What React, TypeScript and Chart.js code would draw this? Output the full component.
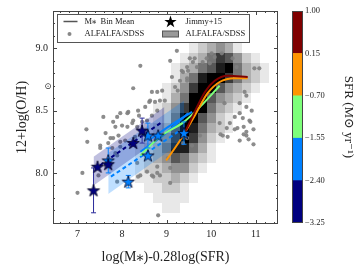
import React, { useEffect, useRef } from 'react';
import { Chart, registerables } from 'chart.js';
Chart.register(...registerables);

const FONT = '"Liberation Serif", "DejaVu Serif", serif';

const X_TICKS = [7, 8, 9, 10, 11];
const Y_TICKS = [8.0, 8.5, 9.0];
const CB_TICKS = [-3.25, -2.4, -1.55, -0.7, 0.15, 1.0];
const CB_COLORS = ['#00007f', '#0080ff', '#7dff7a', '#ff9400', '#7f0000'];

const GAL_X = [8.41,8.25,8.67,8.61,8.74,8.85,8.96,8.79, 7.89,8.12,8.25,8.38,8.56,8.67,8.79,7.20, 9.23,9.52,9.59,9.68,9.46,9.37,9.30,9.46, 9.19,9.25,10.01,10.08,10.24,9.90,10.48,10.57, 10.97,10.64,10.79,10.91,10.64,10.53,10.71,10.86, 10.42,10.35,10.59,10.79,9.08,9.12,8.90,9.46, 9.37,9.57,9.75,10.26,10.79,9.03,9.08,9.08, 8.70,8.85,8.81,7.00,7.11,7.22,7.51,7.78, 7.85,7.96,8.07,7.74,8.56,8.67,8.79,8.41, 7.89,7.58,7.96,7.80,8.14,8.00,8.23,8.34, 8.45,8.63,7.63,7.92,7.51,7.96,7.89,7.47, 8.36,8.34,8.79,8.36,8.52,7.85,8.12,7.80, 7.69,8.29,10.75,10.79,10.30,9.63,9.81,9.34, 9.48,9.46,10.21,10.53,10.73,10.88,10.73,10.95, 11.08,10.64,10.84,10.37,10.19,10.95,9.97];
const GAL_Y = [8.86,8.68,8.65,8.57,8.57,8.58,8.58,8.65, 8.45,8.48,8.42,8.46,8.42,8.46,8.50,8.35, 8.98,8.92,8.89,8.85,8.85,8.81,8.74,8.74, 8.69,8.66,8.96,8.93,8.96,8.92,8.92,8.85, 8.84,8.56,8.53,8.50,8.48,8.45,8.44,8.42, 8.40,8.36,8.36,8.33,8.90,8.77,8.66,8.28, 8.24,8.22,8.30,8.30,8.30,8.12,8.04,7.92, 7.97,7.98,7.66,7.84,8.00,8.25,8.20,8.20, 8.16,8.25,8.26,8.28,8.01,7.98,8.00,7.98, 7.93,8.45,8.48,8.41,8.49,8.38,8.40,8.37, 8.41,8.58,8.32,8.30,8.22,8.21,8.14,7.98, 7.97,8.08,8.05,8.50,8.53,8.37,8.37,8.28, 8.24,8.29,8.65,8.62,8.56,8.92,8.89,8.82, 8.82,8.76,8.31,8.35,8.37,8.41,8.31,8.35, 8.84,8.26,8.27,8.29,8.40,8.23,8.88];

// 2D histogram of ALFALFA/SDSS (density level 0-9), columns from HIST_X0 step HIST_DX, rows from HIST_Y0 downward
const HIST_X0 = 8.3;
const HIST_DX = 0.2;
const HIST_Y0 = 9.04;
const HIST_DY = 0.08;
const HIST_ROWS = [
  '000000123431000',
  '000001235764210',
  '000012356895321',
  '000013589975321',
  '000124799643210',
  '000135996432100',
  '001247995321000',
  '001259964210000',
  '012369853210000',
  '012479742100000',
  '123588531000000',
  '123465321000000',
  '122344210000000',
  '112232100000000',
  '011221000000000',
  '001111000000000',
  '000110000000000',
];

const NAVY_STAR_X = [7.36, 7.45, 7.69, 8.25, 8.45];
const NAVY_STAR_Y = [7.86, 8.05, 8.07, 8.24, 8.34];
const NAVY_STAR_ERR = [0.18, 0, 0, 0, 0.1];
const BLUE_STAR_X = [7.69, 8.14, 8.58, 8.81, 8.58, 9.39];
const BLUE_STAR_Y = [8.10, 7.93, 8.30, 8.30, 8.14, 8.32];
const BLUE_STAR_ERR = [0.1, 0.05, 0.1, 0, 0, 0.09];

const NAVY_BAND_X = [7.36, 8.95];
const NAVY_BAND_HI = [8.13, 8.53];
const NAVY_BAND_LO = [7.90, 8.30];
const BLUE_BAND_X = [7.69, 9.39];
const BLUE_BAND_HI = [8.16, 8.58];
const BLUE_BAND_LO = [7.83, 8.26];

const NAVY_FIT_X = [7.5, 8.9];
const NAVY_FIT_Y = [8.06, 8.41];
const BLUE_FIT_X = [7.75, 9.3];
const BLUE_FIT_Y = [7.97, 8.34];

const RED_X = [9.43, 9.63, 9.86, 10.08, 10.37, 10.82];
const RED_Y = [8.34, 8.49, 8.65, 8.74, 8.78, 8.77];
const ORANGE_X = [8.99, 9.30, 9.63, 9.92, 10.19, 10.53, 10.82];
const ORANGE_Y = [8.10, 8.26, 8.46, 8.64, 8.73, 8.76, 8.76];
const GREEN_X = [8.41, 8.85, 9.39, 9.75, 10.19];
const GREEN_Y = [8.14, 8.29, 8.41, 8.53, 8.70];
const BLUE_A_X = [8.41, 8.92, 9.48];
const BLUE_A_Y = [8.17, 8.30, 8.48];
const BLUE_B_X = [8.59, 9.08, 9.57];
const BLUE_B_Y = [8.26, 8.38, 8.49];

const zip = (xs: number[], ys: number[]) => xs.map((x, i) => ({ x, y: ys[i] }));

function starPath(ctx: CanvasRenderingContext2D, cx: number, cy: number, R: number) {
  const r = R * 0.382;
  ctx.beginPath();
  for (let i = 0; i < 10; i++) {
    const rad = i % 2 === 0 ? R : r;
    const a = -Math.PI / 2 + (i * Math.PI) / 5;
    const px = cx + rad * Math.cos(a);
    const py = cy + rad * Math.sin(a);
    if (i === 0) ctx.moveTo(px, py);
    else ctx.lineTo(px, py);
  }
  ctx.closePath();
}

function makeStar(color: string, R: number) {
  const s = Math.ceil(R * 2 + 3);
  const c = document.createElement('canvas');
  c.width = s;
  c.height = s;
  const ctx = c.getContext('2d')!;
  starPath(ctx, s / 2, s / 2 + 0.5, R);
  ctx.fillStyle = color;
  ctx.fill();
  ctx.lineWidth = 0.8;
  ctx.strokeStyle = '#000020';
  ctx.stroke();
  return c;
}

const histPlugin = {
  id: 'hist',
  beforeDatasetsDraw(chart: any) {
    const { ctx, scales: { x, y } } = chart;
    ctx.save();
    HIST_ROWS.forEach((row, r) => {
      for (let c = 0; c < row.length; c++) {
        const k = +row[c];
        if (!k) continue;
        const x0 = Math.round(x.getPixelForValue(HIST_X0 + c * HIST_DX));
        const x1 = Math.round(x.getPixelForValue(HIST_X0 + (c + 1) * HIST_DX));
        const y0 = Math.round(y.getPixelForValue(HIST_Y0 - r * HIST_DY));
        const y1 = Math.round(y.getPixelForValue(HIST_Y0 - (r + 1) * HIST_DY));
        const g = Math.round(232 - (k - 1) * 29);
        ctx.fillStyle = `rgb(${g},${g},${g})`;
        ctx.fillRect(x0, y0, x1 - x0, y1 - y0);
      }
    });
    ctx.restore();
  },
};

const frameLegendPlugin = {
  id: 'frameLegend',
  afterDraw(chart: any) {
    const { ctx, chartArea: a, scales: { x, y } } = chart;
    ctx.save();
    ctx.strokeStyle = '#444';
    ctx.lineWidth = 1;
    ctx.strokeRect(a.left + 0.5, a.top + 0.5, a.right - a.left - 1, a.bottom - a.top - 1);
    ctx.beginPath();
    for (let i = Math.ceil(x.min / 0.2); i * 0.2 <= x.max; i++) {
      const v = i * 0.2;
      const major = i % 5 === 0;
      const L = major ? 4 : 2;
      const px = Math.round(x.getPixelForValue(v)) + 0.5;
      ctx.moveTo(px, a.bottom);
      ctx.lineTo(px, a.bottom - L);
      ctx.moveTo(px, a.top);
      ctx.lineTo(px, a.top + L);
    }
    for (let i = Math.ceil(y.min / 0.1 - 1e-6); i * 0.1 <= y.max + 1e-6; i++) {
      const v = i * 0.1;
      const major = i % 5 === 0;
      const L = major ? 4 : 2;
      const py = Math.round(y.getPixelForValue(v)) + 0.5;
      ctx.moveTo(a.left, py);
      ctx.lineTo(a.left + L, py);
      ctx.moveTo(a.right, py);
      ctx.lineTo(a.right - L, py);
    }
    ctx.stroke();

    ctx.fillStyle = '#333';
    ctx.font = `9px ${FONT}`;
    ctx.textAlign = 'center';
    ctx.textBaseline = 'middle';
    ctx.fillText('⊙', a.left - 5, y.getPixelForValue(8.69));

    const bx = a.left + 4.5;
    const by = a.top + 3.5;
    const bw = 192;
    const bh = 28;
    ctx.fillStyle = '#ffffff';
    ctx.fillRect(bx, by, bw, bh);
    ctx.strokeStyle = '#555';
    ctx.strokeRect(bx, by, bw, bh);
    const r1 = by + 7;
    const r2 = by + 19.5;
    ctx.strokeStyle = '#555';
    ctx.lineWidth = 1.5;
    ctx.beginPath();
    ctx.moveTo(bx + 6, r1);
    ctx.lineTo(bx + 20, r1);
    ctx.stroke();
    ctx.fillStyle = '#888';
    ctx.beginPath();
    ctx.arc(bx + 12, r2, 2, 0, Math.PI * 2);
    ctx.fill();
    starPath(ctx, bx + 113, r1 + 0.5, 6.5);
    ctx.fillStyle = '#000';
    ctx.fill();
    ctx.fillStyle = '#999';
    ctx.fillRect(bx + 105, r2 - 3, 16, 6);
    ctx.lineWidth = 1;
    ctx.strokeStyle = '#555';
    ctx.strokeRect(bx + 105, r2 - 3, 16, 6);
    ctx.fillStyle = '#222';
    ctx.font = `8.5px ${FONT}`;
    ctx.textAlign = 'left';
    ctx.textBaseline = 'middle';
    ctx.fillText('M⁎  Bin Mean', bx + 27, r1);
    ctx.fillText('ALFALFA/SDSS', bx + 27, r2);
    ctx.fillText('Jimmy+15', bx + 128, r1);
    ctx.fillText('ALFALFA/SDSS', bx + 128, r2);
    ctx.restore();
  },
};

const cbFramePlugin = {
  id: 'cbFrame',
  afterDraw(chart: any) {
    const { ctx, chartArea: a } = chart;
    ctx.save();
    ctx.strokeStyle = '#444';
    ctx.lineWidth = 1;
    ctx.strokeRect(a.left + 0.5, a.top + 0.5, a.right - a.left - 1, a.bottom - a.top - 1);
    ctx.restore();
  },
};

export default function App() {
  const mainRef = useRef<HTMLCanvasElement>(null);
  const cbRef = useRef<HTMLCanvasElement>(null);

  useEffect(() => {
    const navyStar = makeStar('#00007f', 6.5);
    const blueStar = makeStar('#0080ff', 6.5);

    const errSets: any[] = [];
    const addErr = (xs: number[], ys: number[], es: number[], color: string) => {
      xs.forEach((x, i) => {
        if (!es[i]) return;
        errSets.push({
          data: [{ x, y: ys[i] - es[i] }, { x, y: ys[i] + es[i] }],
          borderColor: color,
          borderWidth: 1,
          showLine: true,
          pointStyle: 'line',
          pointRadius: 2.5,
          pointBorderColor: color,
          pointBorderWidth: 1,
          fill: false,
        });
      });
    };
    addErr(NAVY_STAR_X, NAVY_STAR_Y, NAVY_STAR_ERR, '#2a2a9a');
    addErr(BLUE_STAR_X, BLUE_STAR_Y, BLUE_STAR_ERR, '#0080ff');

    const curve = (xs: number[], ys: number[], color: string, dash: number[] = []) => ({
      data: zip(xs, ys),
      borderColor: color,
      borderWidth: 2,
      borderDash: dash,
      pointRadius: 0,
      showLine: true,
      tension: dash.length ? 0 : 0.4,
      cubicInterpolationMode: 'monotone',
      fill: false,
    });

    const band = (xs: number[], ys: number[], fill: any, bg: string) => ({
      data: zip(xs, ys),
      borderColor: 'transparent',
      borderWidth: 0,
      pointRadius: 0,
      showLine: true,
      fill,
      backgroundColor: bg,
      tension: 0,
    });

    const datasets: any[] = [
      { data: zip(NAVY_STAR_X, NAVY_STAR_Y), showLine: false, pointStyle: navyStar, pointRadius: 6, fill: false },
      { data: zip(BLUE_STAR_X, BLUE_STAR_Y), showLine: false, pointStyle: blueStar, pointRadius: 6, fill: false },
      ...errSets,
      curve(RED_X, RED_Y, '#7f0000'),
      curve(ORANGE_X, ORANGE_Y, '#ff9400'),
      curve(GREEN_X, GREEN_Y, '#7dff7a'),
      curve(BLUE_A_X, BLUE_A_Y, '#0080ff'),
      curve(BLUE_B_X, BLUE_B_Y, '#0080ff'),
      curve(NAVY_FIT_X, NAVY_FIT_Y, '#00007f', [4, 3]),
      curve(BLUE_FIT_X, BLUE_FIT_Y, '#0080ff', [4, 3]),
      band(NAVY_BAND_X, NAVY_BAND_HI, '+1', 'rgba(0,0,127,0.25)'),
      band(NAVY_BAND_X, NAVY_BAND_LO, false, 'transparent'),
      band(BLUE_BAND_X, BLUE_BAND_HI, '+1', 'rgba(0,128,255,0.25)'),
      band(BLUE_BAND_X, BLUE_BAND_LO, false, 'transparent'),
      {
        data: zip(GAL_X, GAL_Y),
        showLine: false,
        pointStyle: 'circle',
        pointRadius: 2.1,
        pointBackgroundColor: 'rgba(128,128,128,0.9)',
        pointBorderWidth: 0,
        fill: false,
      },
    ];

    const main = new Chart(mainRef.current!, {
      type: 'line',
      data: { datasets },
      options: {
        animation: false,
        responsive: false,
        events: [],
        layout: { padding: { left: 0, right: 82, top: 10, bottom: 0 } },
        plugins: { legend: { display: false }, tooltip: { enabled: false } },
        scales: {
          x: {
            type: 'linear',
            min: 6.45,
            max: 11.5,
            afterBuildTicks: (s: any) => {
              s.ticks = X_TICKS.map((v) => ({ value: v }));
            },
            afterFit: (s: any) => {
              s.height = 46;
            },
            grid: { display: false, drawTicks: false },
            border: { display: false },
            ticks: {
              padding: 4,
              color: '#222',
              font: { family: FONT, size: 10 },
              callback: (v: any) => String(v),
            },
            title: {
              display: true,
              text: 'log(M⁎)-0.28log(SFR)',
              color: '#222',
              font: { family: FONT, size: 14 },
              padding: { top: 0, bottom: 4 },
            },
          },
          y: {
            type: 'linear',
            min: 7.59,
            max: 9.3,
            afterBuildTicks: (s: any) => {
              s.ticks = Y_TICKS.map((v) => ({ value: v }));
            },
            afterFit: (s: any) => {
              s.width = 53;
            },
            grid: { display: false, drawTicks: false },
            border: { display: false },
            ticks: {
              padding: 5,
              color: '#222',
              font: { family: FONT, size: 10 },
              callback: (v: any) => Number(v).toFixed(1),
            },
            title: {
              display: true,
              text: '12+log(O/H)',
              color: '#222',
              font: { family: FONT, size: 14 },
              padding: { top: 14, bottom: 0 },
            },
          },
        },
      } as any,
      plugins: [histPlugin, frameLegendPlugin],
    });

    const cb = new Chart(cbRef.current!, {
      type: 'bar',
      data: {
        labels: [''],
        datasets: CB_COLORS.map((c, i) => ({
          data: [[CB_TICKS[i], CB_TICKS[i + 1]]],
          backgroundColor: c,
          borderWidth: 0,
          grouped: false,
          barPercentage: 1,
          categoryPercentage: 1,
        })) as any,
      },
      options: {
        animation: false,
        responsive: false,
        events: [],
        layout: { padding: { left: 4, top: 11, bottom: 47, right: 0 } },
        plugins: { legend: { display: false }, tooltip: { enabled: false } },
        scales: {
          x: { display: false },
          y: {
            position: 'right',
            min: -3.25,
            max: 1.0,
            afterBuildTicks: (s: any) => {
              s.ticks = CB_TICKS.map((v) => ({ value: v }));
            },
            afterFit: (s: any) => {
              s.width = 57;
            },
            grid: { display: false, drawTicks: false },
            border: { display: false },
            ticks: {
              padding: 2,
              color: '#222',
              font: { family: FONT, size: 8.5 },
              callback: (v: any) => Number(v).toFixed(2).replace('-', '−'),
            },
            title: {
              display: true,
              text: 'SFR (M⊙ yr⁻¹)',
              color: '#222',
              font: { family: FONT, size: 13 },
              padding: { top: 4, bottom: 0 },
            },
          },
        },
      } as any,
      plugins: [cbFramePlugin],
    });

    return () => {
      main.destroy();
      cb.destroy();
    };
  }, []);

  return (
    <div style={{ position: 'absolute', left: 0, top: 0, width: 360, height: 270, background: '#fff' }}>
      <canvas ref={mainRef} width={360} height={270} style={{ position: 'absolute', left: 0, top: 0 }} />
      <canvas ref={cbRef} width={72} height={270} style={{ position: 'absolute', left: 288, top: 0 }} />
    </div>
  );
}
